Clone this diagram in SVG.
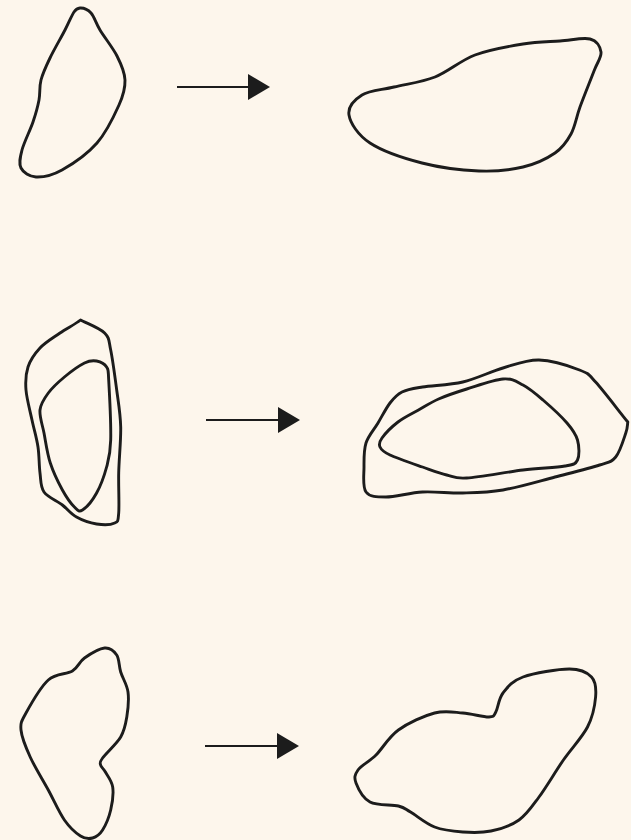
<svg xmlns="http://www.w3.org/2000/svg" width="631" height="840" viewBox="0 0 631 840">
<style>
.shape{fill:none;stroke:#1c1c1c;stroke-width:2.9;stroke-linejoin:round}
.conn{stroke:#1c1c1c;stroke-width:2.2;fill:none}
</style>
<defs>
<marker id="tri" markerUnits="userSpaceOnUse" markerWidth="23" markerHeight="27" refX="0" refY="13" orient="auto">
<path d="M0,0 L22,13 L0,26 Z" fill="#1c1c1c"/>
</marker>
</defs>
<rect width="631" height="840" fill="#fdf6ec"/>
<g id="shape-1a"><path class="shape" d="M 80,8 C 83.5,7.8 87.7,9.3 91,13 C 94.3,16.7 95.7,22.8 100,30 C 104.3,37.2 112.8,47.7 117,56 C 121.2,64.3 124.7,71.8 125,80 C 125.3,88.2 123.7,94.5 119,105 C 114.3,115.5 106.5,132.2 97,143 C 87.5,153.8 72.2,164.3 62,170 C 51.8,175.7 42.8,177.3 36,177 C 29.2,176.7 23.3,172.5 21,168 C 18.7,163.5 20,157.7 22,150 C 24,142.3 30.2,130.3 33,122 C 35.8,113.7 37.7,107 39,100 C 40.3,93 39.2,87 41,80 C 42.8,73 46,66.3 50,58 C 54,49.7 61,37.7 65,30 C 69,22.3 71.5,15.7 74,12 C 76,9 77.2,8.2 80,8 Z"/></g>
<g id="shape-1b"><path class="shape" d="M 590,39 C 596.8,40.8 600.3,46.7 601,52 C 601.7,57.3 597.5,61.8 594,71 C 590.5,80.2 583.8,96.5 580,107 C 576.2,117.5 575.2,126.3 571,134 C 566.8,141.7 563,147.5 555,153 C 547,158.5 535.7,164 523,167 C 510.3,170 495.8,171.7 479,171 C 462.2,170.3 440.2,167.7 422,163 C 403.8,158.3 382.2,151 370,143 C 357.8,135 350.3,123 349,115 C 347.7,107 354.5,99.7 362,95 C 369.5,90.3 381.8,90 394,87 C 406.2,84 421.5,82.3 435,77 C 448.5,71.7 460.3,60.5 475,55 C 489.7,49.5 508.8,46.3 523,44 C 537.2,41.7 548.8,41.8 560,41 C 571.2,40.2 583.2,37.2 590,39 Z"/></g>
<g id="shape-2a">
<path class="shape" d="M 80.5,320 C 86,323 99.6,328 104.6,333 C 109.6,338 108.7,340.5 110.7,350 C 112.7,359.5 115,377.2 116.7,390 C 118.4,402.8 120.4,413.2 120.7,427 C 121,440.8 119,458.7 118.7,473 C 118.4,487.3 119.4,504.7 118.7,513 C 118,521.3 118.4,521.2 114.7,523 C 111,524.8 103,525 96.6,524 C 90.2,523 82.2,520.2 76.5,517 C 70.8,513.8 67.8,509.2 62.4,505 C 57,500.8 47.7,497.3 44,492 C 40.3,486.7 41,480.5 40,473 C 39,465.5 39.3,455.8 38,447 C 36.7,438.2 34,429.5 32,420 C 30,410.5 26.7,398.8 26,390 C 25.3,381.2 25.7,374 28,367 C 30.3,360 34.7,353.7 40,348 C 45.3,342.3 53.3,337.7 60,333 C 66.7,328.3 75,324.5 80.5,320 Z"/>
<path class="shape" d="M 96.6,361 C 100.3,361.7 104.6,363.8 106.6,367 C 108.6,370.2 108,367.8 108.7,380 C 109.4,392.2 111.05,425.5 110.7,440 C 110.35,454.5 108.95,458.2 106.6,467 C 104.25,475.8 100.6,485.8 96.6,493 C 92.6,500.2 86.2,507.7 82.5,510 C 78.8,512.3 77.75,510.3 74.4,507 C 71.05,503.7 66.4,497.3 62.4,490 C 58.4,482.7 53.4,472.5 50.3,463 C 47.2,453.5 45.7,441.8 44,433 C 42.3,424.2 39.3,416.7 40,410 C 40.7,403.3 44.2,398.5 48.3,393 C 52.4,387.5 58.4,382 64.4,377 C 70.4,372 79.1,365.7 84.5,363 C 89.9,360.3 92.9,360.3 96.6,361 Z"/>
</g>
<g id="shape-2b">
<path class="shape" d="M 539,360 C 551.75,360.3 570.1,366.3 579.5,370 C 588.9,373.7 587.6,373.3 595.6,382 C 603.6,390.7 618.8,411 627.8,422 C 627.3,425 627.8,427.2 625.8,433 C 623.8,438.8 620.1,451.7 615.7,457 C 611.3,462.3 609.7,461.7 599.6,465 C 589.5,468.3 571.1,472.8 555,477 C 538.9,481.2 518.4,487.3 503,490 C 487.6,492.7 476.2,492.7 462.8,493 C 449.4,493.3 435.3,491.3 422.5,492 C 409.7,492.7 395.4,497 386,497 C 376.6,497 369.7,497 366,492 C 362.3,487 364,475.2 364,467 C 364,458.8 363.7,450.3 366,443 C 368.3,435.7 374,429.7 378,423 C 382,416.3 386,408.2 390,403 C 394,397.8 396.6,394.7 402,392 C 407.4,389.3 412.4,388.7 422.5,387 C 432.6,385.3 449.4,385.2 462.8,382 C 476.2,378.8 490.3,371.7 503,368 C 515.7,364.3 526.25,359.7 539,360 Z"/>
<path class="shape" d="M 503,379 C 512.4,378.3 516.3,381.5 523,385 C 529.7,388.5 535.7,393.7 543,400 C 550.3,406.3 561.25,416.3 567,423 C 572.75,429.7 575.75,433.8 577.5,440 C 579.25,446.2 579.6,455.7 577.5,460 C 575.4,464.3 574.1,464.3 565,466 C 555.9,467.7 539.4,468 523,470 C 506.6,472 479.5,477.2 466.8,478 C 454.1,478.8 454.1,476.8 446.7,475 C 439.3,473.2 431.95,470.3 422.5,467 C 413.05,463.7 397.1,458.3 390,455 C 382.9,451.7 381.3,449.8 380,447 C 378.7,444.2 379,442.2 382,438 C 385,433.8 391.9,426.7 398,422 C 404.1,417.3 411.7,413.8 418.5,410 C 425.3,406.2 430.6,402.5 438.6,399 C 446.6,395.5 456.1,392.3 466.8,389 C 477.5,385.7 493.6,379.7 503,379 Z"/>
</g>
<g id="shape-3a"><path class="shape" d="M 104.6,648 C 110,647.5 114,651 116.7,655 C 119.4,659 118.8,665.8 120.7,672 C 122.6,678.2 127,684.5 128,692 C 129,699.5 128,709.5 126.8,717 C 125.6,724.5 124.7,730.2 120.7,737 C 116.7,743.8 105.950,753.3 102.6,758 C 99.25,762.7 100.1,762.7 100.6,765 C 101.1,767.3 103.4,768.3 105.4,772 C 107.4,775.7 111.8,780.7 112.7,787 C 113.6,793.3 112.4,802.8 110.7,810 C 109,817.2 105.6,825.3 102.6,830 C 99.6,834.7 96.3,837 92.6,838 C 88.9,839 85.2,839 80.5,836 C 75.8,833 69.8,827.7 64.4,820 C 59,812.3 54,800.5 48.3,790 C 42.6,779.5 34.75,767 30.2,757 C 25.65,747 21.7,737.3 21,730 C 20.3,722.7 21.45,721.3 26,713 C 30.55,704.7 40.6,687 48.3,680 C 56,673 66.4,674.7 72.4,671 C 78.4,667.3 79.1,661.8 84.5,658 C 89.9,654.2 99.2,648.5 104.6,648 Z"/></g>
<g id="shape-3b"><path class="shape" d="M 569.4,669 C 580.8,669 587.1,672.3 591.5,677 C 595.9,681.7 596.3,688.7 595.6,697 C 594.9,705.3 592.9,716.5 587.5,727 C 582.1,737.5 571.5,748.3 563.4,760 C 555.3,771.7 546.4,787 539,797 C 531.6,807 527,814.3 519,820 C 511,825.7 500.4,829 491,831 C 481.6,833 472.2,832.7 462.8,832 C 453.4,831.3 443.3,830.3 434.6,827 C 425.9,823.7 416.5,815.5 410.5,812 C 404.5,808.5 405.15,807.7 398.4,806 C 391.65,804.3 377.1,805.8 370,802 C 362.9,798.2 358,788.3 356,783 C 354,777.7 354.7,774.7 358,770 C 361.3,765.3 369.3,761.7 376,755 C 382.7,748.3 388.6,737 398.4,730 C 408.2,723 423.9,715.8 434.6,713 C 445.3,710.2 453.7,712.3 462.8,713 C 471.9,713.7 483.5,717.2 489,717 C 494.5,716.8 493.5,716 495.8,712 C 498.1,708 498.5,698.8 503,693 C 507.5,687.2 511.9,681 523,677 C 534.1,673 558,669 569.4,669 Z"/></g>
<g id="connectors">
<line class="conn" x1="177" y1="87" x2="248" y2="87" marker-end="url(#tri)"/>
<line class="conn" x1="206" y1="420" x2="278" y2="420" marker-end="url(#tri)"/>
<line class="conn" x1="205" y1="746" x2="277" y2="746" marker-end="url(#tri)"/>
</g>
</svg>
